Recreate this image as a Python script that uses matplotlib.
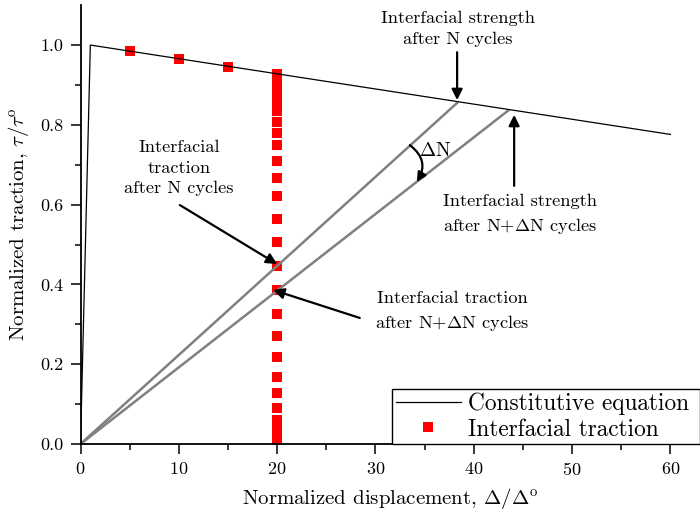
import matplotlib.pyplot as plt
import numpy as np

plt.rcParams['font.family'] = 'cmr10'
plt.rcParams['mathtext.fontset'] = 'cm'
plt.rcParams['axes.formatter.use_mathtext'] = True
plt.rcParams['axes.unicode_minus'] = False

# Линейная модель сцепления: упругий участок и разупрочнение
disp_const = [0.0, 1.0, 60.0]
trac_const = [0.0, 1.0, 0.776]

# Точки сцепления (начало нагружения)
disp_pts = [5.0, 10.0, 15.0]
trac_pts = [0.985, 0.965, 0.946]

# Напряжения сцепления на смещении 20 по циклам
disp_col = 20.0
trac_col = [0.928, 0.918, 0.906, 0.894, 0.882, 0.870, 0.858, 0.846, 0.834,
            0.807, 0.779, 0.749, 0.709, 0.667, 0.622, 0.564, 0.506, 0.447,
            0.386, 0.326, 0.271, 0.218, 0.168, 0.128, 0.090, 0.060, 0.035,
            0.016, 0.003]

# Секущие жесткости после N и N+dN циклов
sec_N = [(0.0, 0.0), (38.3, 0.855)]
sec_dN = [(0.0, 0.0), (43.5, 0.836)]

fig = plt.figure(figsize=(7.0, 5.16), dpi=100)
ax = fig.add_axes([0.115, 0.1395, 0.885, 0.8505])

ax.plot(*zip(*sec_N), color='#808080', linewidth=1.8, zorder=2)
ax.plot(*zip(*sec_dN), color='#808080', linewidth=1.8, zorder=2)
ax.plot(disp_const, trac_const, color='black', linewidth=0.9, zorder=3,
        label='Constitutive equation')
ax.plot(disp_pts + [disp_col] * len(trac_col), trac_pts + trac_col,
        linestyle='none', marker='s', markersize=7, color='red',
        markeredgewidth=0, zorder=1, label='Interfacial traction')

ax.set_xlim(0, 63)
ax.set_ylim(0, 1.1)
ax.set_xticks(np.arange(0, 61, 10))
ax.set_xticks(np.arange(5, 61, 10), minor=True)
ax.set_yticks(np.arange(0, 1.01, 0.2))
ax.set_yticks(np.arange(0.1, 1.1, 0.2), minor=True)
ax.yaxis.set_major_formatter(plt.FormatStrFormatter('%.1f'))
ax.tick_params(which='major', direction='out', length=7, width=1.1,
               labelsize=13, pad=5)
ax.tick_params(which='minor', direction='out', length=4, width=1.1)
ax.spines['top'].set_visible(False)
ax.spines['right'].set_visible(False)
ax.spines['left'].set_linewidth(1.3)
ax.spines['bottom'].set_linewidth(1.3)

ax.set_xlabel(r'Normalized displacement, $\Delta/\Delta^{\rm o}$', fontsize=15, labelpad=6)
ax.set_ylabel(r'Normalized traction, $\tau/\tau^{\rm o}$', fontsize=15, labelpad=7)

arrow = dict(arrowstyle='-|>', color='black', lw=1.6, mutation_scale=16,
             shrinkA=0, shrinkB=0)
txt = dict(fontsize=13.2, ha='center', va='center', linespacing=1.45)

# Подписи
ax.text(38.4, 1.04, 'Interfacial strength\nafter N cycles', **txt)
ax.text(44.7, 0.574, 'Interfacial strength\n' + r'after N+$\Delta$N cycles', **txt)
ax.text(10.0, 0.692, 'Interfacial\ntraction\nafter N cycles', **txt)
ax.text(37.8, 0.331, 'Interfacial traction\n' + r'after N+$\Delta$N cycles', **txt)

# Стрелки к точкам
ax.annotate('', xy=(38.3, 0.862), xytext=(38.3, 0.982), arrowprops=arrow)
ax.annotate('', xy=(44.1, 0.825), xytext=(44.1, 0.647), arrowprops=arrow)
ax.annotate('', xy=(20.0, 0.451), xytext=(10.1, 0.599), arrowprops=arrow)
ax.annotate('', xy=(19.6, 0.386), xytext=(28.4, 0.316), arrowprops=arrow)

# Поворот секущей между циклами
ax.annotate('', xy=(34.2, 0.657), xytext=(33.5, 0.749),
            arrowprops=dict(arrowstyle='-|>', color='black', lw=1.6,
                            mutation_scale=14, shrinkA=0, shrinkB=0,
                            connectionstyle='arc3,rad=-0.45'))
ax.text(34.4, 0.735, r'$\Delta$N', fontsize=14, ha='left', va='center')

leg = ax.legend(loc='lower left', bbox_to_anchor=(0.503, 0.0, 0.497, 0.2),
                mode='expand', fontsize=16.8, frameon=True, fancybox=False,
                edgecolor='black', framealpha=1, borderaxespad=0,
                handlelength=2.8, handletextpad=0.3, borderpad=0.15,
                labelspacing=0.13)
leg.get_frame().set_linewidth(1.0)

plt.savefig('out.png', dpi=100)
